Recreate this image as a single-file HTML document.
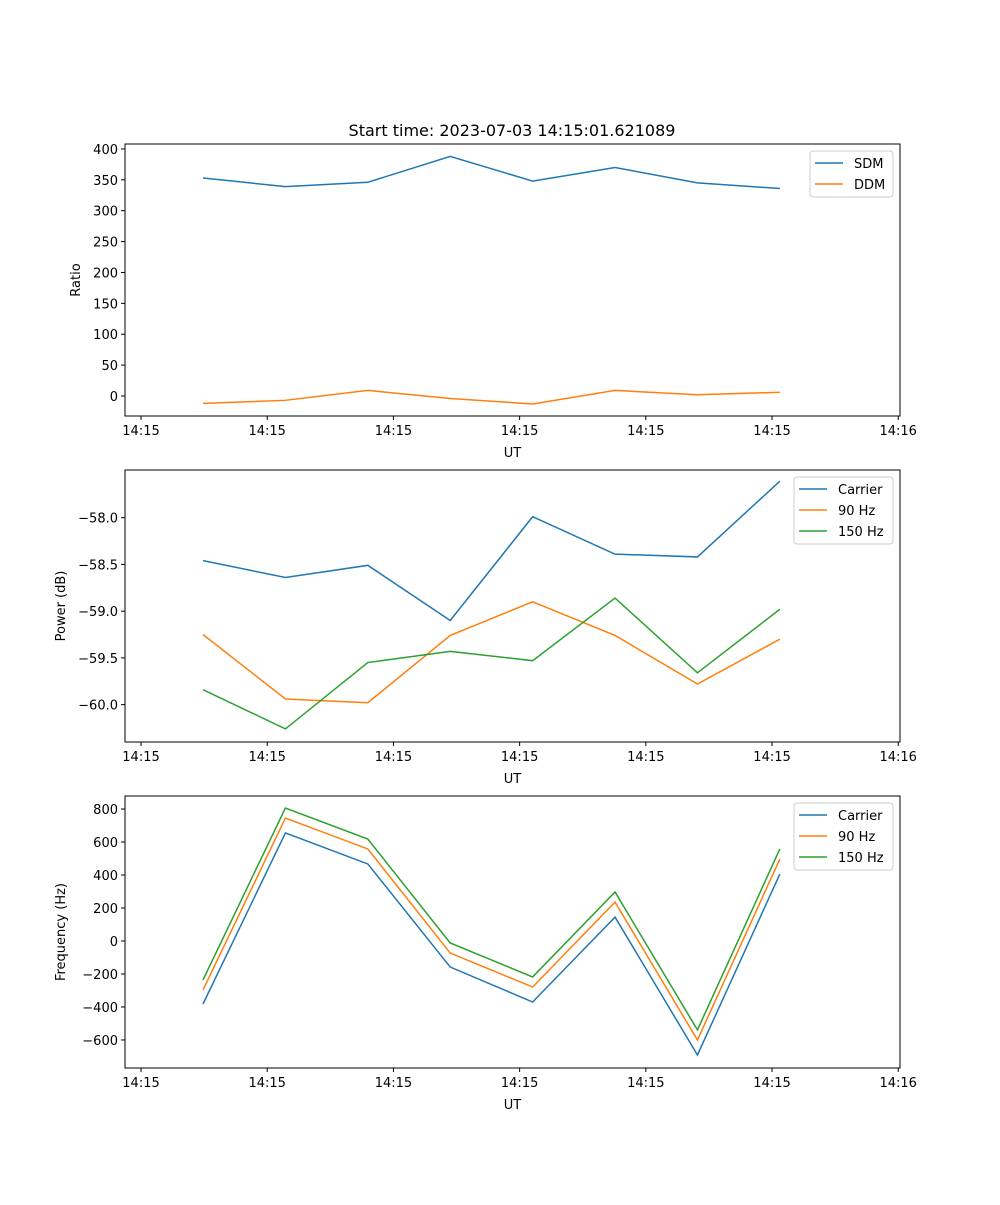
<!DOCTYPE html>
<html><head><meta charset="utf-8"><style>
body{margin:0;background:#fff;}
svg text{font-family:"DejaVu Sans","Liberation Sans",sans-serif;fill:#000;}
</style></head><body>
<svg id="fig" width="1000" height="1200" xmlns="http://www.w3.org/2000/svg">
<rect width="1000" height="1200" fill="#fff"/>
<text x="512" y="136" font-size="16" text-anchor="middle">Start time: 2023-07-03 14:15:01.621089</text>
</svg>
<script>
const times = [4.91, 11.44, 17.97, 24.50, 31.03, 37.56, 44.09, 50.62];
const xTicks = [0, 10, 20, 30, 40, 50, 60];
const xTickLabels = ["14:15","14:15","14:15","14:15","14:15","14:15","14:16"];
const sdm = [353, 339, 346, 388, 348, 370, 345, 336];
const ddm = [-12, -7, 9, -4, -13, 9, 2, 6];
const pCarrier = [-58.46, -58.64, -58.51, -59.10, -57.99, -58.39, -58.42, -57.61];
const p90 = [-59.25, -59.94, -59.98, -59.26, -58.90, -59.26, -59.78, -59.30];
const p150 = [-59.84, -60.26, -59.55, -59.43, -59.53, -58.86, -59.66, -58.98];
const fCarrier = [-382, 655, 467, -158, -370, 145, -691, 406];
const f90 = [-297, 745, 558, -73, -279, 236, -600, 497];
const f150 = [-236, 806, 618, -12, -218, 297, -539, 558];
const ticks1 = [0, 50, 100, 150, 200, 250, 300, 350, 400];
const ticks2 = [-60.0, -59.5, -59.0, -58.5, -58.0];
const ticks3 = [-600, -400, -200, 0, 200, 400, 600, 800];

const NS = "http://www.w3.org/2000/svg";
const svg = document.getElementById("fig");
const L = 125, R = 900, XMIN = -1.27, XMAX = 60.14;
const xs = v => L + (v - XMIN) / (XMAX - XMIN) * (R - L);
function mk(tag, attrs, parent) {
  const e = document.createElementNS(NS, tag);
  for (const k in attrs) e.setAttribute(k, attrs[k]);
  (parent || svg).appendChild(e);
  return e;
}
const C = ["#1f77b4", "#ff7f0e", "#2ca02c"];
function panel(id, top, bot, ymin, ymax, yticks, fmt, ylabel, series, names, legX, legW) {
  const ys = v => bot - (v - ymin) / (ymax - ymin) * (bot - top);
  const g = mk("g", {});
  
  
  series.forEach((s, i) => {
    const p = mk("polyline", {points: s.map((v, j) => xs(times[j]) + "," + ys(v)).join(" "), fill: "none", stroke: C[i], "stroke-width": 1.5}, g);
    
    
  });
  const fr = mk("rect", {x: L, y: top, width: R - L, height: bot - top, fill: "none", stroke: "#000", "stroke-width": 1}, g);
  
  
  xTicks.forEach((t, i) => {
    const x = xs(t);
    mk("line", {x1: x, x2: x, y1: bot, y2: bot + 4, stroke: "#000"}, g);
    const tx = mk("text", {x: x, y: bot + 19, "font-size": 13, "text-anchor": "middle"}, g);
    tx.textContent = xTickLabels[i];
    
    
  });
  yticks.forEach(t => {
    const y = ys(t);
    mk("line", {x1: L - 4, x2: L, y1: y, y2: y, stroke: "#000"}, g);
    const tx = mk("text", {x: L - 7, y: y + 5, "font-size": 13, "text-anchor": "end"}, g);
    tx.textContent = fmt(t);
    
    
  });
  const xl = mk("text", {x: (L + R) / 2, y: bot + 41, "font-size": 13, "text-anchor": "middle"}, g);
  xl.textContent = "UT";
  
  
  const yx = (ylabel === "Ratio") ? 80 : 65;
  const yl = mk("text", {x: yx, y: (top + bot) / 2, "font-size": 13, "text-anchor": "middle", transform: "rotate(-90 " + yx + " " + ((top + bot) / 2) + ")"}, g);
  yl.textContent = ylabel;
  
  
  const lg = mk("g", {}, g);
  
  
  mk("rect", {x: legX, y: top + 7, width: legW, height: 21 * names.length + 4, rx: 3, fill: "#fff", "fill-opacity": 0.8, stroke: "#ccc"}, lg);
  names.forEach((n, i) => {
    const y = top + 19 + 21 * i;
    mk("line", {x1: legX + 5, x2: legX + 33, y1: y, y2: y, stroke: C[i], "stroke-width": 1.5}, lg);
    const tx = mk("text", {x: legX + 44, y: y + 5, "font-size": 13}, lg);
    tx.textContent = n;
    
    
  });
}
panel("ratio-panel", 144, 416, -32.4, 408, ticks1, v => String(v), "Ratio", [sdm, ddm], ["SDM", "DDM"], 810, 83);
panel("power-panel", 470, 742, -60.40, -57.49, ticks2, v => "\u2212" + Math.abs(v).toFixed(1), "Power (dB)", [pCarrier, p90, p150], ["Carrier", "90 Hz", "150 Hz"], 794, 99);
panel("frequency-panel", 796, 1068, -770, 879, ticks3, v => (v < 0 ? "\u2212" : "") + Math.abs(v), "Frequency (Hz)", [fCarrier, f90, f150], ["Carrier", "90 Hz", "150 Hz"], 794, 99);
</script>
</body></html>
